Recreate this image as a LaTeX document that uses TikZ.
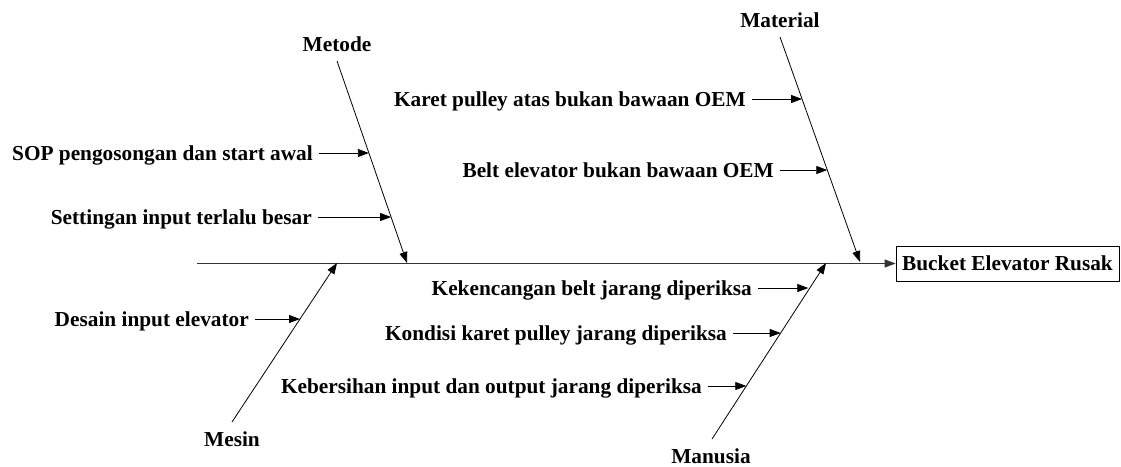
\documentclass[tikz,border=0pt]{standalone}
\usepackage{fontspec}
\setmainfont{Liberation Serif}
\usetikzlibrary{arrows.meta,calc}
\begin{document}
\begin{tikzpicture}[x=1pt,y=-1pt,
  every node/.style={font=\fontsize{21.3}{25}\selectfont\bfseries},
  cause/.style={anchor=east,inner xsep=6pt,inner ysep=0pt,text height=15pt,text depth=1pt},
  cat/.style={anchor=base,inner sep=0pt},
  bone/.style={line width=0.8pt,-{Triangle[length=11pt,width=8pt]}},
  twig/.style={line width=0.8pt,-{Triangle[length=11pt,width=8pt]}},
  spine/.style={line width=1.1pt,draw=black!80,-{Triangle[length=11pt,width=8pt]}}]
\useasboundingbox (0,0) rectangle (1121,466);

% effect
\node[draw,line width=0.8pt,minimum width=223pt,minimum height=35pt,inner sep=0pt] (effect) at (1007.5,263.5) {Bucket Elevator Rusak};
\coordinate (tail) at (197,263.5);
\draw[spine] (tail) -- (effect.west);

% bone end points
\coordinate (metT) at (337,61);   \coordinate (metB) at (407,263);
\coordinate (matT) at (780,37);   \coordinate (matB) at (860,262);
\coordinate (mesB) at (232,422);  \coordinate (mesT) at (337,263);
\coordinate (manB) at (712,439);  \coordinate (manT) at (826,263);

\draw[bone] (metT) -- (metB);
\draw[bone] (matT) -- (matB);
\draw[bone] (mesB) -- (mesT);
\draw[bone] (manB) -- (manT);

% category labels
\node[cat] (metode) at (337,51) {Metode};
\node[cat] (material) at (780,27) {Material};
\node[cat] (mesin) at (232,446) {Mesin};
\node[cat] (manusia) at (711,463) {Manusia};

% points on bones
\coordinate (p1) at ($(metT)!0.455!(metB)$);
\coordinate (p2) at ($(metT)!0.772!(metB)$);
\coordinate (p3) at ($(matT)!0.2756!(matB)$);
\coordinate (p4) at ($(matT)!0.591!(matB)$);
\coordinate (p5) at ($(mesB)!0.648!(mesT)$);
\coordinate (p6) at ($(manB)!0.845!(manT)$);
\coordinate (p7) at ($(manB)!0.602!(manT)$);
\coordinate (p8) at ($(manB)!0.301!(manT)$);

% causes
\node[cause] (c1) at (319,153) {SOP pengosongan dan start awal};
\node[cause] (c2) at (318,217) {Settingan input terlalu besar};
\node[cause] (c3) at (752,99) {Karet pulley atas bukan bawaan OEM};
\node[cause] (c4) at (780,170) {Belt elevator bukan bawaan OEM};
\node[cause] (c5) at (255,319) {Desain input elevator};
\node[cause] (c6) at (758,288) {Kekencangan belt jarang diperiksa};
\node[cause] (c7) at (733,333) {Kondisi karet pulley jarang diperiksa};
\node[cause] (c8) at (708,386) {Kebersihan input dan output jarang diperiksa};

\draw[twig] (c1.east) -- (c1.east -| p1);
\draw[twig] (c2.east) -- (c2.east -| p2);
\draw[twig] (c3.east) -- (c3.east -| p3);
\draw[twig] (c4.east) -- (c4.east -| p4);
\draw[twig] (c5.east) -- (c5.east -| p5);
\draw[twig] (c6.east) -- (c6.east -| p6);
\draw[twig] (c7.east) -- (c7.east -| p7);
\draw[twig] (c8.east) -- (c8.east -| p8);
\end{tikzpicture}
\end{document}
